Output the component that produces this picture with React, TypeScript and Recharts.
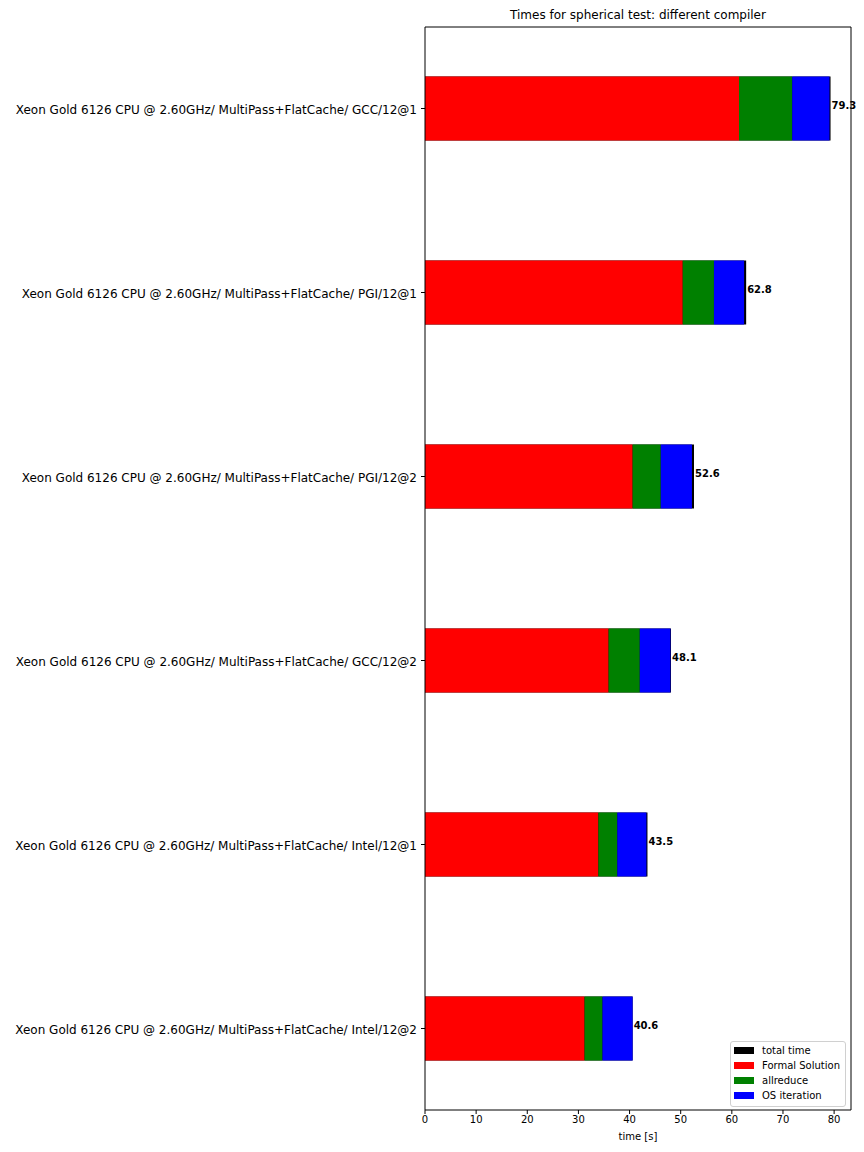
import React from 'react';
import { BarChart, Bar, XAxis, YAxis, Legend, LabelList } from 'recharts';

const configs = [
  'Xeon Gold 6126 CPU @ 2.60GHz/ MultiPass+FlatCache/ GCC/12@1',
  'Xeon Gold 6126 CPU @ 2.60GHz/ MultiPass+FlatCache/ PGI/12@1',
  'Xeon Gold 6126 CPU @ 2.60GHz/ MultiPass+FlatCache/ PGI/12@2',
  'Xeon Gold 6126 CPU @ 2.60GHz/ MultiPass+FlatCache/ GCC/12@2',
  'Xeon Gold 6126 CPU @ 2.60GHz/ MultiPass+FlatCache/ Intel/12@1',
  'Xeon Gold 6126 CPU @ 2.60GHz/ MultiPass+FlatCache/ Intel/12@2',
];
const totalTime = [79.3, 62.8, 52.6, 48.1, 43.5, 40.6];
const formalSolution = [61.4, 50.4, 40.6, 35.9, 33.9, 31.2];
const allreduce = [10.4, 6.1, 5.5, 6.1, 3.7, 3.5];
const osIteration = [7.3, 5.9, 6.1, 6.0, 5.7, 5.9];
const xTicks = [0, 10, 20, 30, 40, 50, 60, 70, 80];
const legendOrder = ['total time', 'Formal Solution', 'allreduce', 'OS iteration'];

const data = configs.map((name, i) => ({
  name,
  total: totalTime[i],
  formal: formalSolution[i],
  allreduce: allreduce[i],
  os: osIteration[i],
}));

const FONT = '"DejaVu Sans", sans-serif';
const yPad = { top: -10.5, bottom: -10.5 };

const TotalLabel = (props: any) => {
  const { x, y, width, height, value } = props;
  return (
    <text
      x={x + width + 1}
      y={y + height / 2 - 3}
      fontSize={10}
      fontWeight="bold"
      fill="#000"
      fontFamily={FONT}
      dominantBaseline="middle"
    >
      {value}
    </text>
  );
};

// plain text so long labels stay on one line
const CategoryTick = (props: any) => {
  const { x, y, payload } = props;
  return (
    <text x={x} y={y + 1.5} textAnchor="end" dominantBaseline="middle" fontSize={12} fontFamily={FONT} fill="#000">
      {payload.value}
    </text>
  );
};

const LegendBox = (props: any) => {
  const { payload } = props;
  return (
    <div
      style={{
        border: '1px solid #d0d0d0',
        borderRadius: 3,
        background: 'rgba(255,255,255,0.8)',
        padding: '1px 5px 3px 3px',
        fontFamily: FONT,
        fontSize: 10,
        color: '#000',
        whiteSpace: 'nowrap',
      }}
    >
      {payload.map((p: any) => (
        <div key={p.value} style={{ display: 'flex', alignItems: 'center', height: 15 }}>
          <span style={{ width: 20, height: 7, background: p.color, marginRight: 8, display: 'inline-block' }} />
          <span>{p.value}</span>
        </div>
      ))}
    </div>
  );
};

export default function App() {
  return (
    <div style={{ position: 'absolute', left: 0, top: 0, width: 864, height: 1152, background: '#fff' }}>
      <div
        style={{
          position: 'absolute',
          left: 425,
          width: 426,
          top: 8,
          textAlign: 'center',
          fontFamily: FONT,
          fontSize: 12,
          color: '#000',
        }}
      >
        Times for spherical test: different compiler
      </div>
      <BarChart
        width={864}
        height={1152}
        data={data}
        layout="vertical"
        margin={{ top: 26, right: 12, bottom: 12, left: 0 }}
        barSize={64}
      >
        <XAxis
          type="number"
          domain={[0, 83.3]}
          ticks={xTicks}
          allowDataOverflow
          height={30}
          tickSize={4}
          tickMargin={2}
          stroke="#000"
          tick={{ fill: '#000', fontSize: 10, fontFamily: FONT }}
          label={{ value: 'time [s]', position: 'insideBottom', offset: 0, fill: '#000', fontSize: 10, fontFamily: FONT }}
        />
        <XAxis
          xAxisId="top"
          orientation="top"
          type="number"
          domain={[0, 83.3]}
          height={1}
          tick={false}
          tickLine={false}
          stroke="#000"
        />
        <YAxis
          type="category"
          dataKey="name"
          width={425}
          padding={yPad}
          tickSize={4}
          tickMargin={4}
          stroke="#000"
          interval={0}
          tick={<CategoryTick />}
        />
        <YAxis
          yAxisId="right"
          orientation="right"
          type="category"
          dataKey="name"
          width={1}
          padding={yPad}
          tick={false}
          tickLine={false}
          stroke="#000"
        />
        <Legend
          layout="vertical"
          align="center"
          verticalAlign="middle"
          itemSorter={(item: any) => legendOrder.indexOf(item.value)}
          content={<LegendBox />}
          wrapperStyle={{ left: 730, top: 1041, width: 'auto' }}
        />
        <Bar yAxisId="right" dataKey="total" name="total time" fill="#000" isAnimationActive={false}>
          <LabelList dataKey="total" content={<TotalLabel />} />
        </Bar>
        <Bar dataKey="formal" name="Formal Solution" stackId="s" fill="#ff0000" isAnimationActive={false} />
        <Bar dataKey="allreduce" name="allreduce" stackId="s" fill="#008000" isAnimationActive={false} />
        <Bar dataKey="os" name="OS iteration" stackId="s" fill="#0000ff" isAnimationActive={false} />
      </BarChart>
    </div>
  );
}
